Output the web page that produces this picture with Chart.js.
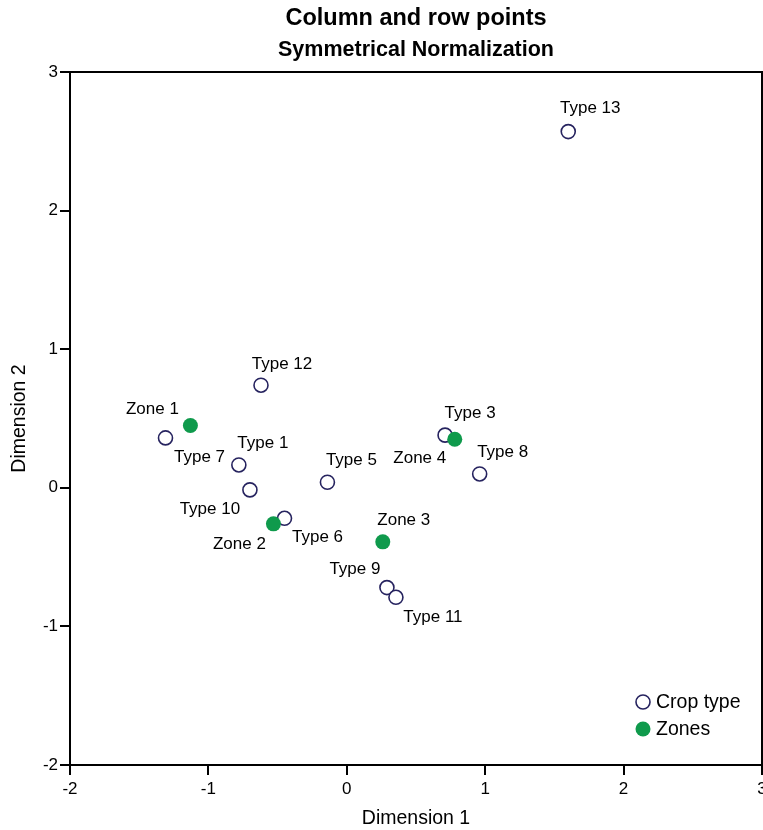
<!DOCTYPE html>
<html>
<head>
<meta charset="utf-8">
<script src="https://cdn.jsdelivr.net/npm/chart.js@4/dist/chart.umd.min.js"></script>
<style>
  html, body { margin: 0; padding: 0; background: #fff; }
  #wrap { width: 763px; height: 830px; }
</style>
</head>
<body>
<div id="wrap"><canvas id="chart" width="763" height="830"></canvas></div>
<script>
// crop types (column points)
const cropNames = ["Type 13", "Type 12", "Type 7", "Type 1", "Type 10", "Type 6", "Type 5", "Type 3", "Type 8", "Type 9", "Type 11"];
const cropX = [1.60, -0.62, -1.31, -0.78, -0.70, -0.45, -0.14, 0.71, 0.96, 0.29, 0.355];
const cropY = [2.57, 0.74, 0.36, 0.165, -0.015, -0.22, 0.04, 0.38, 0.10, -0.72, -0.79];

// zones (row points)
const zoneNames = ["Zone 1", "Zone 2", "Zone 3", "Zone 4"];
const zoneX = [-1.13, -0.53, 0.26, 0.78];
const zoneY = [0.45, -0.26, -0.39, 0.35];

const xTicks = [-2, -1, 0, 1, 2, 3];
const yTicks = [-2, -1, 0, 1, 2, 3];

// label offsets in px from the marker (text centre)
const cropLabelOffsets = [[22, -23], [21, -21], [34, 19], [24, -22], [-40, 19], [33, 19], [24, -22], [25, -22], [23, -22], [-32, -18], [37, 20]];
const zoneLabelOffsets = [[-38, -16], [-34, 20], [21, -22], [-35, 19]];

const NAVY = "#26235f";
const GREEN = "#0f9a4c";
const FONT = "'Liberation Sans', Arial, sans-serif";

const pointLabels = {
  id: "pointLabels",
  afterDatasetsDraw(chart) {
    const ctx = chart.ctx;
    ctx.save();
    ctx.font = `17px ${FONT}`;
    ctx.fillStyle = "#000";
    ctx.textAlign = "center";
    ctx.textBaseline = "middle";
    chart.data.datasets.forEach((ds, di) => {
      const meta = chart.getDatasetMeta(di);
      meta.data.forEach((pt, i) => {
        const off = ds.labelOffsets[i];
        ctx.fillText(ds.names[i], pt.x + off[0], pt.y + off[1]);
      });
    });
    ctx.restore();
  },
};

const frame = {
  id: "frame",
  afterDraw(chart) {
    const { ctx, chartArea: a } = chart;
    ctx.save();
    ctx.strokeStyle = "#000";
    ctx.lineWidth = 2;
    ctx.strokeRect(a.left, a.top, a.right - a.left, a.bottom - a.top);

    // titles
    const cx = (a.left + a.right) / 2;
    ctx.fillStyle = "#000";
    ctx.textAlign = "center";
    ctx.textBaseline = "middle";
    ctx.font = `bold 23.5px ${FONT}`;
    ctx.fillText("Column and row points", cx, 19);
    ctx.font = `bold 21.5px ${FONT}`;
    ctx.fillText("Symmetrical Normalization", cx, 50);

    // legend inside the plot
    ctx.font = `19.5px ${FONT}`;
    ctx.textAlign = "left";
    ctx.lineWidth = 1.6;
    ctx.beginPath();
    ctx.arc(643, 702, 7, 0, Math.PI * 2);
    ctx.fillStyle = "#fff";
    ctx.fill();
    ctx.strokeStyle = NAVY;
    ctx.stroke();
    ctx.beginPath();
    ctx.arc(643, 729, 7.5, 0, Math.PI * 2);
    ctx.fillStyle = GREEN;
    ctx.fill();
    ctx.fillStyle = "#000";
    ctx.fillText("Crop type", 656, 703);
    ctx.fillText("Zones", 656, 730);
    ctx.restore();
  },
};

const cropData = cropX.map((x, i) => ({ x, y: cropY[i] }));
const zoneData = zoneX.map((x, i) => ({ x, y: zoneY[i] }));

new Chart(document.getElementById("chart"), {
  type: "scatter",
  data: {
    datasets: [
      {
        label: "Zones",
        names: zoneNames,
        labelOffsets: zoneLabelOffsets,
        data: zoneData,
        pointRadius: 7.5,
        pointBackgroundColor: GREEN,
        pointBorderColor: GREEN,
        pointBorderWidth: 0,
      },
      {
        label: "Crop type",
        names: cropNames,
        labelOffsets: cropLabelOffsets,
        data: cropData,
        pointRadius: 7,
        pointBackgroundColor: "#fff",
        pointBorderColor: NAVY,
        pointBorderWidth: 1.6,
      },
    ],
  },
  options: {
    responsive: false,
    animation: false,
    layout: { autoPadding: false, padding: { top: 72, right: 1, left: 0, bottom: 0 } },
    plugins: {
      legend: { display: false },
      tooltip: { enabled: false },
    },
    scales: {
      x: {
        type: "linear",
        min: -2,
        max: 3,
        afterBuildTicks: (s) => { s.ticks = xTicks.map((v) => ({ value: v })); },
        afterFit: (s) => { s.height = 65; s.paddingLeft = 0; s.paddingRight = 0; },
        border: { color: "#000", width: 2 },
        grid: { drawOnChartArea: false, drawTicks: true, tickLength: 10, color: "#000", lineWidth: 2 },
        ticks: { color: "#000", font: { size: 17, family: FONT }, padding: 4, maxRotation: 0 },
        title: { display: true, text: "Dimension 1", color: "#000", font: { size: 19.5, family: FONT }, padding: { top: 4, bottom: 0 } },
      },
      y: {
        type: "linear",
        min: -2,
        max: 3,
        afterBuildTicks: (s) => { s.ticks = yTicks.map((v) => ({ value: v })); },
        afterFit: (s) => { s.width = 70; s.paddingTop = 0; s.paddingBottom = 0; },
        border: { color: "#000", width: 2 },
        grid: { drawOnChartArea: false, drawTicks: true, tickLength: 10, color: "#000", lineWidth: 2 },
        ticks: { color: "#000", font: { size: 17, family: FONT }, padding: 2 },
        title: { display: true, text: "Dimension 2", color: "#000", font: { size: 19.5, family: FONT }, padding: { top: 8, bottom: 4 } },
      },
    },
  },
  plugins: [pointLabels, frame],
});
</script>
</body>
</html>
